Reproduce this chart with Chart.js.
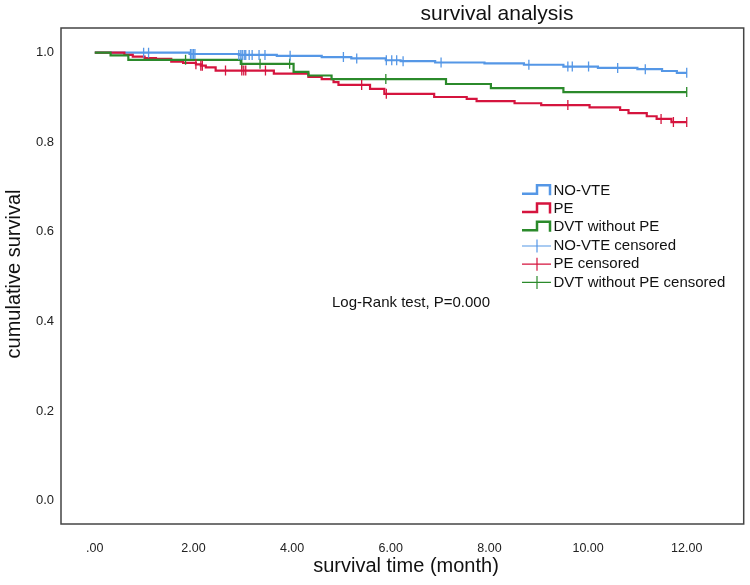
<!DOCTYPE html>
<html>
<head>
<meta charset="utf-8">
<script src="https://cdn.jsdelivr.net/npm/chart.js@4"></script>
<style>
  body { margin: 0; background: #fff; }
  canvas { display: block; }
</style>
</head>
<body>
<canvas id="kmChart" width="750" height="585"></canvas>
<script>
// Kaplan-Meier steps: time (months) of each drop and survival after it
const noVteTime = [0, 1.92, 2.92, 3.69, 4.6, 5.2, 5.9, 6.2, 6.9, 7.9, 8.7, 9.5, 10.2, 11.0, 11.5, 11.8, 12];
const noVteSurv = [1.0, 0.997, 0.995, 0.993, 0.990, 0.987, 0.983, 0.981, 0.978, 0.976, 0.973, 0.969, 0.966, 0.963, 0.959, 0.955, 0.955];

const peTime = [0, 0.6, 0.77, 1.01, 1.24, 1.55, 1.79, 2.05, 2.15, 2.25, 2.45, 3.63, 4.33, 4.6, 4.84, 4.94, 5.58, 5.87, 6.88, 7.54, 7.74, 8.51, 9.05, 10.03, 10.65, 10.82, 11.19, 11.39, 11.69, 12];
const peSurv = [1.0, 0.995, 0.991, 0.988, 0.986, 0.980, 0.977, 0.974, 0.971, 0.967, 0.960, 0.953, 0.946, 0.941, 0.934, 0.928, 0.919, 0.908, 0.901, 0.897, 0.892, 0.887, 0.883, 0.878, 0.872, 0.865, 0.858, 0.852, 0.845, 0.845];

const dvtTime = [0, 0.32, 0.68, 2.96, 4.03, 4.33, 4.8, 7.12, 8.03, 9.5, 12];
const dvtSurv = [1.0, 0.994, 0.984, 0.975, 0.957, 0.949, 0.941, 0.930, 0.921, 0.912, 0.912];

// censored cases (months)
const noVteCensor = [0.99, 1.09, 1.94, 1.97, 2.0, 2.03, 2.92, 2.96, 2.99, 3.03, 3.06, 3.13, 3.19, 3.33, 3.45, 3.96, 5.04, 5.31, 5.91, 6.02, 6.12, 6.25, 7.02, 8.8, 9.59, 9.68, 10.01, 10.6, 11.16, 12.0];
const peCensor = [2.05, 2.15, 2.18, 2.65, 2.98, 3.02, 3.06, 3.46, 5.41, 5.91, 9.59, 11.48, 11.73, 12.0];
const dvtCensor = [1.84, 2.98, 3.35, 3.95, 5.9, 12.0];

const xTicks = [0, 2, 4, 6, 8, 10, 12];
const yTicks = [0, 0.2, 0.4, 0.6, 0.8, 1.0];

const legendLabels = ['NO-VTE', 'PE', 'DVT without PE', 'NO-VTE censored', 'PE censored', 'DVT without PE censored'];

const BLUE = '#5597e6';
const RED = '#d5143e';
const GREEN = '#2b8a2b';
const FONT = '"Liberation Sans", Arial, sans-serif';

function toPoints(times, surv) {
    return times.map((t, i) => ({ x: t, y: surv[i] }));
}

// survival value of a curve at time t (the step it is on)
function survAt(times, surv, t) {
    let s = surv[0];
    for (let i = 0; i < times.length; i++) {
        if (times[i] <= t) s = surv[i];
    }
    return s;
}

function censorPoints(cens, times, surv) {
    return cens.map(t => ({ x: t, y: survAt(times, surv, t) }));
}

function curve(label, times, surv, color, order) {
    return {
        label: label,
        data: toPoints(times, surv),
        borderColor: color,
        borderWidth: 2.2,
        stepped: 'before',
        pointRadius: 0,
        fill: false,
        order: order
    };
}

function censored(label, cens, times, surv, color, order) {
    return {
        label: label,
        data: censorPoints(cens, times, surv),
        showLine: false,
        pointStyle: 'line',
        rotation: 90,
        pointRadius: 5,
        pointBorderWidth: 1.3,
        borderColor: color,
        backgroundColor: color,
        order: order
    };
}

// frame, titles, legend and the test note
const extras = {
    id: 'extras',
    afterDraw(chart) {
        const { ctx, chartArea: a } = chart;
        ctx.save();
        ctx.strokeStyle = '#444';
        ctx.lineWidth = 1.5;
        ctx.strokeRect(a.left, a.top, a.right - a.left, a.bottom - a.top);

        ctx.fillStyle = '#111';
        ctx.textBaseline = 'middle';
        ctx.textAlign = 'center';
        ctx.font = '21px ' + FONT;
        ctx.fillText('survival analysis', 497, 14);

        ctx.font = '20px ' + FONT;
        ctx.fillText('survival time (month)', 406, 566);

        ctx.save();
        ctx.translate(14, 274);
        ctx.rotate(-Math.PI / 2);
        ctx.fillText('cumulative survival', 0, 0);
        ctx.restore();

        ctx.textAlign = 'left';
        ctx.font = '15px ' + FONT;
        ctx.fillText('Log-Rank test, P=0.000', 332, 303);

        // legend
        const colors = [BLUE, RED, GREEN, BLUE, RED, GREEN];
        const ys = [190.7, 209, 227.3, 246, 264.2, 282.4];
        legendLabels.forEach((txt, i) => {
            const y = ys[i];
            ctx.strokeStyle = colors[i];
            ctx.beginPath();
            if (i < 3) {
                ctx.lineWidth = 2.5;
                ctx.moveTo(522, y + 3);
                ctx.lineTo(537, y + 3);
                ctx.lineTo(537, y - 5.5);
                ctx.lineTo(550, y - 5.5);
                ctx.lineTo(550, y + 4.5);
            } else {
                ctx.lineWidth = 1.2;
                ctx.moveTo(522, y);
                ctx.lineTo(551, y);
                ctx.moveTo(537, y - 6.5);
                ctx.lineTo(537, y + 6.5);
            }
            ctx.stroke();
            ctx.fillStyle = '#111';
            ctx.fillText(txt, 553.5, y);
        });
        ctx.restore();
    }
};

new Chart(document.getElementById('kmChart').getContext('2d'), {
    type: 'line',
    data: {
        datasets: [
            censored('NO-VTE censored', noVteCensor, noVteTime, noVteSurv, BLUE, 1),
            censored('PE censored', peCensor, peTime, peSurv, RED, 2),
            censored('DVT without PE censored', dvtCensor, dvtTime, dvtSurv, GREEN, 3),
            curve('NO-VTE', noVteTime, noVteSurv, BLUE, 6),
            curve('PE', peTime, peSurv, RED, 5),
            curve('DVT without PE', dvtTime, dvtSurv, GREEN, 4)
        ]
    },
    options: {
        responsive: false,
        animation: false,
        layout: { padding: { top: 28, right: 3, left: 0, bottom: 0 } },
        plugins: {
            legend: { display: false },
            tooltip: { enabled: false },
            title: { display: false }
        },
        scales: {
            x: {
                type: 'linear',
                min: -0.685,
                max: 13.155,
                grid: { display: false, drawTicks: false },
                border: { display: false },
                afterFit: s => { s.height = 61; },
                afterBuildTicks: s => { s.ticks = xTicks.map(v => ({ value: v })); },
                ticks: {
                    callback: v => (v === 0 ? '.00' : v.toFixed(2)),
                    font: { family: FONT, size: 12.5 },
                    color: '#222',
                    padding: 17,
                    maxRotation: 0,
                    autoSkip: false
                }
            },
            y: {
                type: 'linear',
                min: -0.052,
                max: 1.055,
                grid: { display: false, drawTicks: false },
                border: { display: false },
                afterFit: s => { s.width = 61; },
                afterBuildTicks: s => { s.ticks = yTicks.map(v => ({ value: v })); },
                ticks: {
                    callback: v => v.toFixed(1),
                    font: { family: FONT, size: 13 },
                    color: '#222',
                    padding: 7
                }
            }
        }
    },
    plugins: [extras]
});
</script>
</body>
</html>
